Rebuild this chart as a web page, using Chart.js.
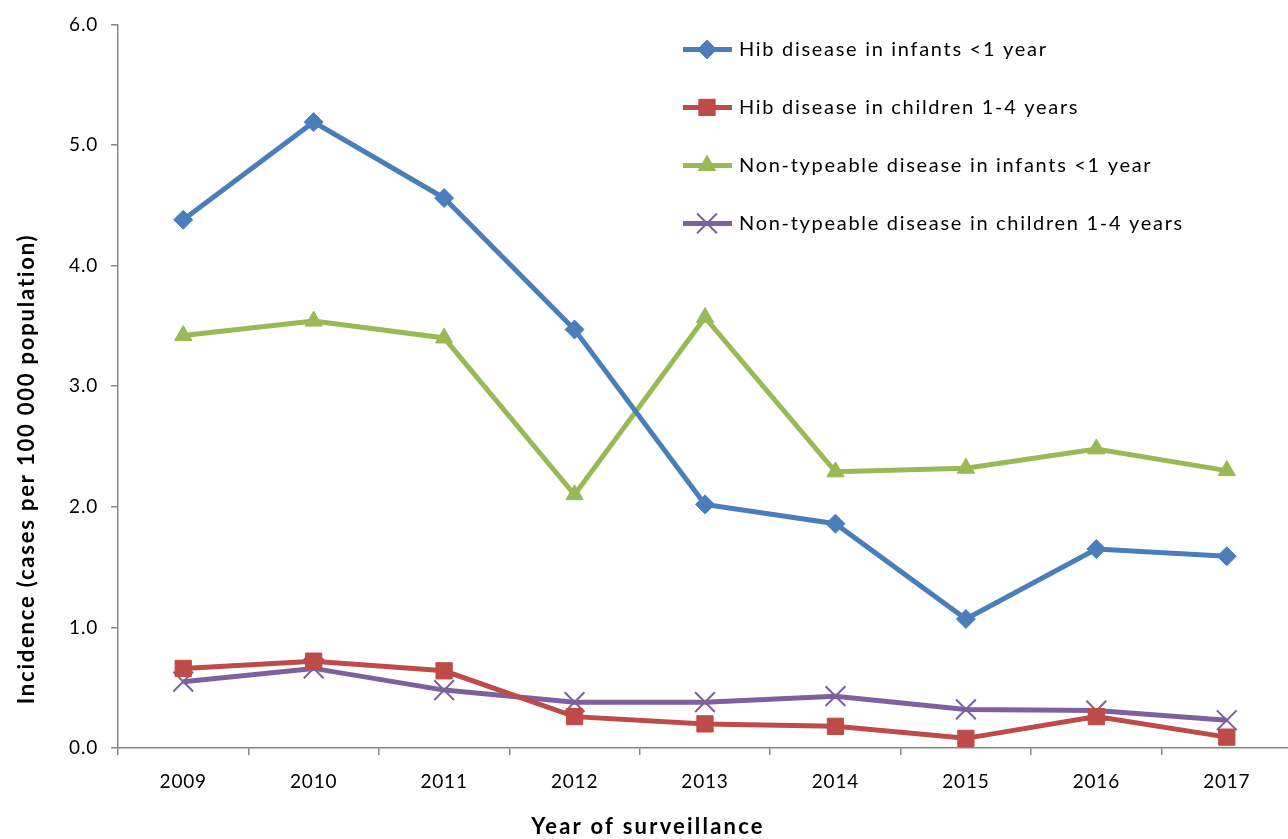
<!DOCTYPE html>
<html>
<head>
<meta charset="utf-8">
<title>Haemophilus influenzae incidence</title>
<script src="https://cdn.jsdelivr.net/npm/chart.js@4.4.1/dist/chart.umd.min.js"></script>
<style>
    html, body { margin: 0; padding: 0; background: #fff; overflow: hidden; }
    #wrap { width: 1308px; height: 839px; }
</style>
</head>
<body>
<div id="wrap"><canvas id="incidence-chart" width="1308" height="839"></canvas></div>
<script>
// Surveillance years and incidence per 100 000 population
const years = ['2009', '2010', '2011', '2012', '2013', '2014', '2015', '2016', '2017'];
const hibInfants = [4.38, 5.19, 4.56, 3.47, 2.02, 1.86, 1.07, 1.65, 1.59];
const hibChildren = [0.66, 0.72, 0.64, 0.26, 0.20, 0.18, 0.08, 0.26, 0.09];
const ntInfants = [3.42, 3.54, 3.40, 2.10, 3.57, 2.29, 2.32, 2.48, 2.30];
const ntChildren = [0.55, 0.66, 0.48, 0.38, 0.38, 0.43, 0.32, 0.31, 0.23];
const yTicks = [0, 1, 2, 3, 4, 5, 6];

const xTitle = 'Year of surveillance';
const yTitle = 'Incidence (cases per 100 000 population)';

const FONT = 'Lato, "Open Sans", sans-serif';
const AXIS_GREY = '#868686';

function series(label, data, color, style, radius) {
    return {
        label: label,
        data: data,
        borderColor: color,
        backgroundColor: color,
        borderWidth: 5,
        pointStyle: style,
        pointRadius: radius,
        pointBorderColor: color,
        pointBackgroundColor: color,
        pointBorderWidth: style === 'crossRot' ? 2 : 1,
        tension: 0
    };
}

// Wider letter spacing for tick labels (Chart.js resets the canvas on init)
const tickSpacing = {
    id: 'tickSpacing',
    beforeLayout(chart) { chart.ctx.letterSpacing = '0.8px'; },
    beforeDraw(chart) { chart.ctx.letterSpacing = '0.8px'; }
};

// Axis titles, centred on the page rather than on the plot area
const axisTitles = {
    id: 'axisTitles',
    afterDraw(chart) {
        const c = chart.ctx;
        c.save();
        c.fillStyle = '#000';
        c.textAlign = 'center';
        c.textBaseline = 'middle';
        c.font = 'bold 22px ' + FONT;
        c.letterSpacing = '2.2px';
        c.fillText(xTitle, 648, 827);
        c.translate(27, 469);
        c.rotate(-Math.PI / 2);
        c.letterSpacing = '1.8px';
        c.fillText(yTitle, 0, 0);
        c.restore();
    }
};

// Legend inside the plot area: line sample with marker, then label
const insideLegend = {
    id: 'insideLegend',
    afterDraw(chart) {
        const c = chart.ctx;
        const area = chart.chartArea;
        const x0 = area.left + 565;
        const y0 = area.top + 25;
        c.save();
        c.font = '20px ' + FONT;
        c.letterSpacing = '1.7px';
        c.textBaseline = 'middle';
        chart.data.datasets.forEach((ds, i) => {
            const y = y0 + i * 58;
            c.strokeStyle = ds.borderColor;
            c.lineWidth = ds.borderWidth;
            c.beginPath();
            c.moveTo(x0, y);
            c.lineTo(x0 + 49, y);
            c.stroke();
            c.fillStyle = ds.borderColor;
            c.lineWidth = ds.pointBorderWidth;
            Chart.helpers.drawPoint(c, {
                pointStyle: ds.pointStyle,
                radius: ds.pointRadius,
                borderWidth: ds.pointBorderWidth
            }, x0 + 24, y);
            c.fillStyle = '#000';
            c.fillText(ds.label, x0 + 56, y);
        });
        c.restore();
    }
};

const ctx = document.getElementById('incidence-chart').getContext('2d');

const incidenceChart = new Chart(ctx, {
    type: 'line',
    data: {
        labels: years,
        datasets: [
            series('Hib disease in infants <1 year', hibInfants, '#4A7EBB', 'rectRot', 9.5),
            series('Hib disease in children 1-4 years', hibChildren, '#BE4B48', 'rect', 11.5),
            series('Non-typeable disease in infants <1 year', ntInfants, '#98B954', 'triangle', 10),
            series('Non-typeable disease in children 1-4 years', ntChildren, '#7D60A0', 'crossRot', 14)
        ]
    },
    plugins: [tickSpacing, axisTitles, insideLegend],
    options: {
        responsive: false,
        animation: false,
        events: [],
        layout: {
            padding: { left: 0, right: 0, top: 22, bottom: 0 }
        },
        plugins: {
            legend: { display: false },
            tooltip: { enabled: false }
        },
        scales: {
            x: {
                type: 'category',
                offset: true,
                afterFit(scale) { scale.height = 91; },
                grid: {
                    offset: true,
                    drawOnChartArea: false,
                    drawTicks: true,
                    tickLength: 7,
                    color: AXIS_GREY,
                    lineWidth: 1.5
                },
                border: { display: true, color: AXIS_GREY, width: 1.5 },
                ticks: {
                    color: '#000',
                    padding: 15,
                    maxRotation: 0,
                    font: { family: FONT, size: 19 }
                }
            },
            y: {
                min: 0,
                max: 6,
                afterFit(scale) { scale.width = 118; },
                afterBuildTicks(scale) {
                    scale.ticks = yTicks.map(v => ({ value: v }));
                },
                grid: {
                    drawOnChartArea: false,
                    drawTicks: true,
                    tickLength: 7,
                    color: AXIS_GREY,
                    lineWidth: 1.5
                },
                border: { display: true, color: AXIS_GREY, width: 1.5 },
                ticks: {
                    color: '#000',
                    padding: 13,
                    font: { family: FONT, size: 19 },
                    callback: v => Number(v).toFixed(1)
                }
            }
        }
    }
});
</script>
</body>
</html>
